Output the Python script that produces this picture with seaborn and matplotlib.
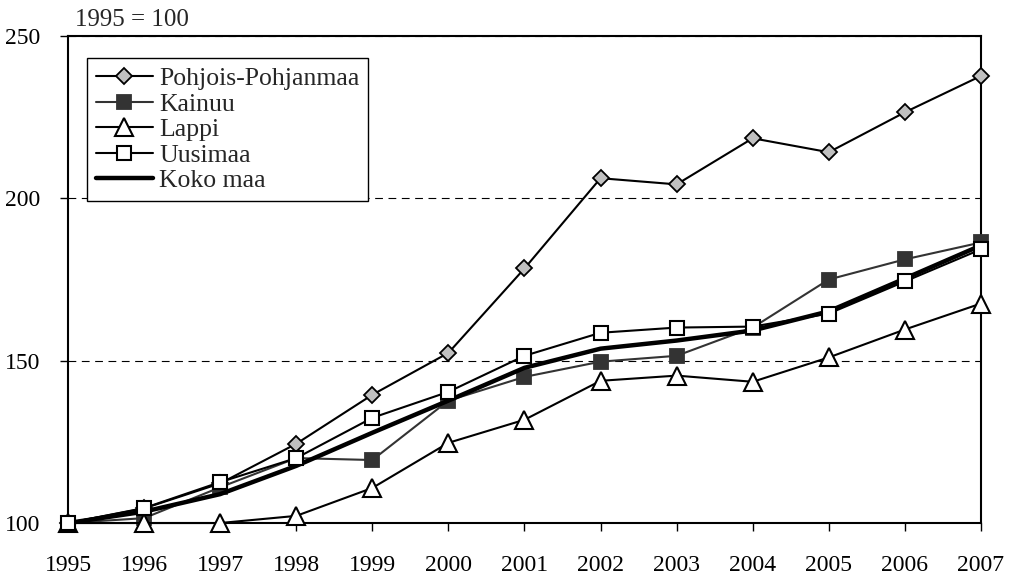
import numpy as np
import pandas as pd
import seaborn as sns
import matplotlib
matplotlib.use("Agg")
import matplotlib.pyplot as plt

years = list(range(1995, 2008))
pohjois = [100, 104.5, 112.2, 124.4, 139.5, 152.4, 178.4, 206.2, 204.3, 218.5, 214.2, 226.5, 237.7]
kainuu = [100, 101.5, 111.0, 120.0, 119.4, 137.7, 145.0, 149.7, 151.5, 160.2, 175.0, 181.2, 186.4]
lappi = [100, 100, 100, 102.2, 110.8, 124.7, 131.8, 143.8, 145.4, 143.5, 151.0, 159.6, 167.6]
uusimaa = [100, 104.6, 112.6, 120.0, 132.4, 140.4, 151.5, 158.6, 160.2, 160.5, 164.5, 174.4, 184.3]
koko_maa = [100, 103.5, 108.9, 117.6, 127.8, 137.7, 147.8, 153.7, 156.2, 159.3, 165.2, 175.3, 185.5]

sns.set_theme(style="white")
plt.rcParams["font.family"] = ["Liberation Serif", "DejaVu Serif"]
plt.rcParams["font.size"] = 17

fig = plt.figure(figsize=(10.09, 5.75), dpi=100)
ax = fig.add_axes([0.0674, 0.0904, 0.9048, 0.8470])

# gridlines first
ax.set_axisbelow(True)
ax.yaxis.grid(True, color="black", linestyle=(0, (7, 5)), linewidth=0.8)

sns.lineplot(x=years, y=pohjois, ax=ax, color="black", lw=1.5, marker="D",
             markersize=8, markerfacecolor="#c0c0c0", markeredgecolor="black",
             markeredgewidth=1.3, label="Pohjois-Pohjanmaa", clip_on=False, zorder=3)
sns.lineplot(x=years, y=kainuu, ax=ax, color="#333333", lw=1.5, marker="s",
             markersize=10.5, markerfacecolor="#333333", markeredgecolor="#333333",
             markeredgewidth=1.3, label="Kainuu", clip_on=False, zorder=4)
sns.lineplot(x=years, y=lappi, ax=ax, color="black", lw=1.5, marker="^",
             markersize=13, markerfacecolor="white", markeredgecolor="black",
             markeredgewidth=1.5, label="Lappi", clip_on=False, zorder=5)
sns.lineplot(x=years, y=uusimaa, ax=ax, color="black", lw=1.5, marker="s",
             markersize=10.5, markerfacecolor="white", markeredgecolor="black",
             markeredgewidth=1.5, label="Uusimaa", clip_on=False, zorder=7)
sns.lineplot(x=years, y=koko_maa, ax=ax, color="black", lw=3.2,
             label="Koko maa", clip_on=False, zorder=6)

ax.set_xlim(1995, 2007)
ax.set_ylim(100, 250)
ax.set_xticks(years)
ax.set_yticks([100, 150, 200, 250])
ax.set_xlabel("")
ax.set_ylabel("")
ax.tick_params(axis="both", direction="out", length=6, width=1, color="black",
               labelsize=17, labelcolor="black", bottom=True, left=True)
ax.tick_params(axis="x", pad=17)
ax.tick_params(axis="y", pad=14)
for s in ax.spines.values():
    s.set_color("black")
    s.set_linewidth(1.5)

leg = ax.legend(loc="upper left", bbox_to_anchor=(0.0208, 0.9548), borderaxespad=0,
                fontsize=18.5, frameon=True, fancybox=False, framealpha=1,
                edgecolor="black", handlelength=2.2, handletextpad=0.25,
                labelspacing=0.1, borderpad=0.35)
leg.get_frame().set_linewidth(1.0)
leg.set_zorder(10)

fig.text(75 / 1009, 1 - 20 / 575, "1995 = 100", fontsize=18, va="center", ha="left")

fig.savefig("out.png", dpi=100)
